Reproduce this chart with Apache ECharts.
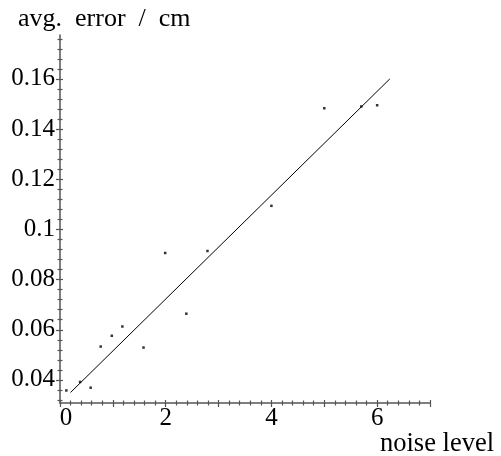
<!DOCTYPE html>
<html>
<head>
<meta charset="utf-8">
<script src="https://cdn.jsdelivr.net/npm/echarts@6/dist/echarts.min.js"></script>
<style>html,body{margin:0;padding:0;background:#fff}#c{width:501px;height:456px}</style>
</head>
<body>
<div id="c"></div>
<script>
// measured data points
const noiseLevel = [0.12, 0.38, 0.58, 0.77, 0.98, 1.18, 1.58, 1.99, 2.39, 2.79, 4.0, 5.0, 5.7, 6.0];
const avgError   = [0.0358, 0.0392, 0.0369, 0.0533, 0.0576, 0.0613, 0.0529, 0.0906, 0.0664, 0.0914, 0.1094, 0.1483, 0.149, 0.1495];
// fitted line end points
const fitX = [0.2, 6.24];
const fitY = [0.035, 0.160];
// axis ticks / labels
const xMajorTicks = [0, 1, 2, 3, 4, 5, 6, 7];
const xLabels = [0, 2, 4, 6];
const yMajorTicks = [0.04, 0.06, 0.08, 0.1, 0.12, 0.14, 0.16];
const yLabels = ['0.04', '0.06', '0.08', '0.1', '0.12', '0.14', '0.16'];
const xRange = [0, 7];
const yRange = [0.0308, 0.1775];

const xMinorTicks = [];
for (let i = 1; i < 35; i++) { if (i % 5 !== 0) xMinorTicks.push(+(i * 0.2).toFixed(2)); }
const yMinorTicks = [];
for (let i = 8; i <= 44; i++) { if (i % 5 !== 0) yMinorTicks.push(+(i * 0.004).toFixed(3)); }

const pts = noiseLevel.map((x, i) => [x, avgError[i]]);
const fit = fitX.map((x, i) => [x, fitY[i]]);

const AX = '#555';
const FONT = 'Liberation Serif';

function xAx(ticks, len, inside, main) {
  return {
    type: 'value', position: 'bottom', min: xRange[0], max: xRange[1],
    axisLine: { show: main, onZero: false, lineStyle: { color: AX, width: 1.5 } },
    axisTick: { show: true, inside: inside, length: len, customValues: ticks, lineStyle: { color: AX, width: 1.2 } },
    axisLabel: main ? {
      show: true, margin: 3, color: '#000', fontFamily: FONT, fontSize: 25,
      customValues: xLabels,
      formatter: v => v === 0 ? '{z|0}' : String(v),
      rich: { z: { padding: [0, 0, 0, 12], fontFamily: FONT, fontSize: 25, color: '#000' } }
    } : { show: false },
    splitLine: { show: false }
  };
}
function yAx(ticks, len, inside, main) {
  return {
    type: 'value', position: 'left', min: yRange[0], max: yRange[1],
    axisLine: { show: main, onZero: false, lineStyle: { color: AX, width: 1.5 } },
    axisTick: { show: true, inside: inside, length: len, customValues: ticks, lineStyle: { color: AX, width: 1.2 } },
    axisLabel: main ? {
      show: true, margin: 5, color: '#000', fontFamily: FONT, fontSize: 25,
      customValues: yMajorTicks,
      formatter: v => { const i = yMajorTicks.findIndex(t => Math.abs(t - v) < 1e-9); return i >= 0 ? yLabels[i] : ''; }
    } : { show: false },
    splitLine: { show: false }
  };
}

const chart = echarts.init(document.getElementById('c'), null, { renderer: 'canvas' });
chart.setOption({
  animation: false,
  backgroundColor: '#fff',
  grid: { left: 60, top: 35, width: 370, height: 368, containLabel: false },
  xAxis: [xAx(xMajorTicks, 4, false, true), xAx(xMajorTicks, 3, true, false), xAx(xMinorTicks, 2.5, false, false), xAx(xMinorTicks, 2.5, true, false)],
  yAxis: [yAx(yMajorTicks, 4, false, true), yAx(yMajorTicks, 3, true, false), yAx(yMinorTicks, 2.5, false, false), yAx(yMinorTicks, 2.5, true, false)],
  graphic: [
    { type: 'text', left: 18, top: 6, style: { text: 'avg.  error  /  cm', fontFamily: FONT, fontSize: 26, fill: '#000' } },
    { type: 'text', left: 380, top: 431, style: { text: 'noise level', fontFamily: FONT, fontSize: 26.5, fill: '#000' } }
  ],
  series: [
    { type: 'line', data: fit, showSymbol: false, symbol: 'none', lineStyle: { color: '#000', width: 1 }, silent: true },
    { type: 'scatter', data: pts, symbol: 'rect', symbolSize: 2.5, itemStyle: { color: '#000' } }
  ]
});
</script>
</body>
</html>
